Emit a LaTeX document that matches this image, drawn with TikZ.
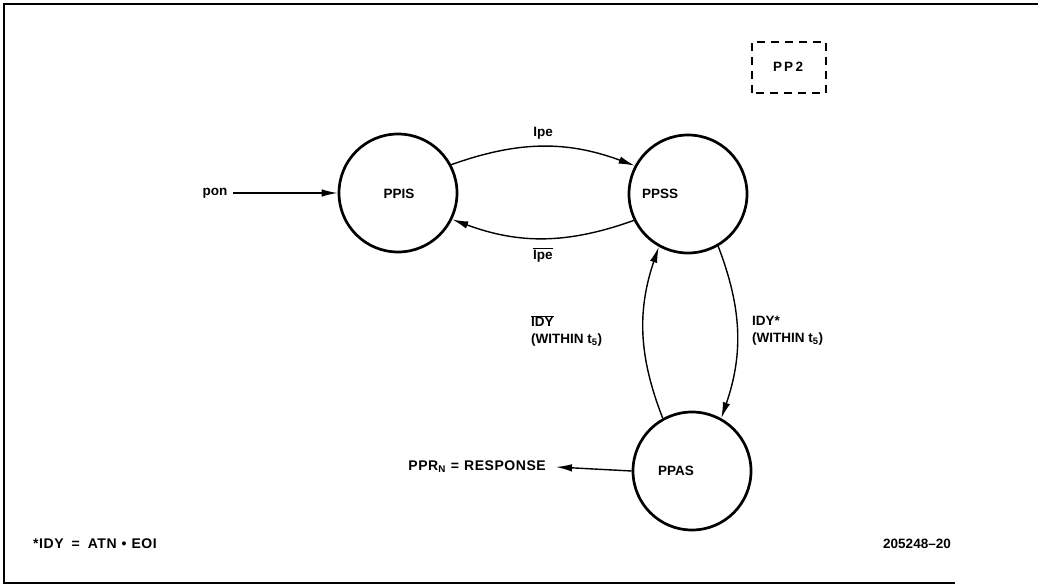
\documentclass[tikz,border=0pt]{standalone}
\usepackage{fontspec}
\setmainfont{Liberation Sans}
\usetikzlibrary{arrows.meta}
\begin{document}
\begin{tikzpicture}[x=1pt,y=1pt,
  every node/.style={font=\fontsize{13.5}{17}\selectfont\bfseries, inner sep=0pt},
  wide/.style={font=\fontsize{14}{17}\selectfont\bfseries\addfontfeature{LetterSpace=4}},
  state/.style={circle, draw, line width=2.7pt, minimum size=118pt},
  arr/.style={-{Latex[length=16pt,width=7.5pt]}, line width=1.4pt},
  lbl/.style={align=left, anchor=west}]
\useasboundingbox (0,0) rectangle (1038,587);
% frame
\draw[line width=2pt] (1038,583) -- (4,583) -- (4,4) -- (955,4);
% PP2 box
\draw[dashed, dash pattern=on 8pt off 6pt, line width=1.2pt] (752,494) rectangle (826,545);
\node (pp2) at (788,520) {P\,P\,2};
% states
\node[state] (ppis) at (398,394) {};
\node[state] (ppss) at (688,393) {};
\node[state] (ppas) at (692,116) {};
\node (ppist) at (399,393) {PPIS};
\node (ppsst) at (660,393) {PPSS};
\node (ppast) at (676,116) {PPAS};
% pon
\node (pon) at (215,394) {pon};
\coordinate (ponr) at (233,394);
\draw[arr] (ponr) -- (ppis.west);
% Ipe arcs
\draw[arr] (ppis.28) to[bend left=20] node[above=7pt] (ipe) {Ipe} (ppss.152);
\draw[arr] (ppss.206) to[bend left=20] node[below=9pt] (ipen) {$\overline{\mbox{Ipe}}$} (ppis.334);
% IDY arcs
\draw[arr] (ppas.119) to[bend left=20] (ppss.241);
\draw[arr] (ppss.300) to[bend left=20] (ppas.61);
\node[lbl] (idyn) at (531,256) {$\overline{\mbox{IDY}}$\\(WITHIN t\textsubscript{5})};
\node[lbl] (idy) at (752,256) {IDY*\\(WITHIN t\textsubscript{5})};
% response
\node[anchor=east, wide] (ppr) at (546,120) {PPR\textsubscript{N}\hspace{5pt}=\hspace{5pt}RESPONSE};
\coordinate (pprtip) at (556,120);
\draw[arr] (ppas.west) -- (pprtip);
% footnotes
\node[anchor=west, wide] (foot) at (33,43) {*IDY\hspace{8pt}=\hspace{8pt}ATN\hspace{5pt}•\hspace{5pt}EOI};
\node (fig) at (917,43) {205248–20};
\end{tikzpicture}
\end{document}
